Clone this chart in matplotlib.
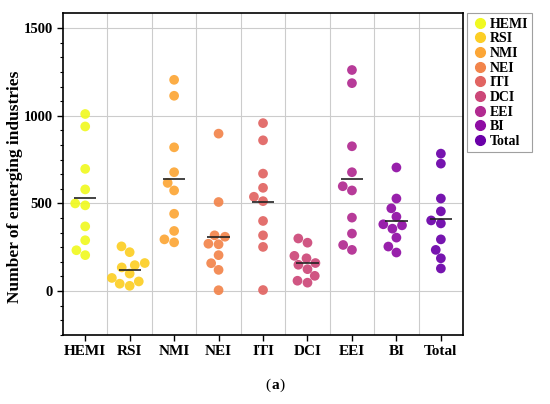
import numpy as np
import pandas as pd
import matplotlib
matplotlib.use('Agg')
import matplotlib.pyplot as plt
import seaborn as sns
from matplotlib.lines import Line2D
from matplotlib.ticker import MultipleLocator

# categories and values
categories = ['HEMI', 'RSI', 'NMI', 'NEI', 'ITI', 'DCI', 'EEI', 'BI', 'Total']
hemi = [1010, 939, 697, 580, 500, 489, 369, 290, 233, 205]
rsi = [255, 222, 160, 148, 135, 100, 75, 55, 42, 30]
nmi = [1205, 1114, 820, 678, 617, 574, 441, 343, 295, 278]
nei = [898, 508, 318, 310, 270, 267, 205, 159, 121, 5]
iti = [958, 860, 670, 589, 538, 513, 400, 318, 252, 6]
dci = [300, 276, 201, 187, 160, 150, 125, 87, 59, 48]
eei = [1261, 1186, 826, 678, 598, 574, 419, 328, 263, 235]
bi = [705, 528, 472, 424, 381, 375, 356, 305, 254, 220]
total = [784, 727, 528, 455, 403, 386, 295, 235, 187, 129]
series = [hemi, rsi, nmi, nei, iti, dci, eei, bi, total]

# plasma colours, yellow -> purple
colors = [plt.cm.plasma(v) for v in [1.0, 0.9, 0.8, 0.7, 0.6, 0.5, 0.4, 0.3, 0.2]]

df = pd.DataFrame({
    'cat': np.repeat(categories, [len(s) for s in series]),
    'val': np.concatenate(series),
})

plt.rcParams['font.family'] = ['Liberation Serif', 'DejaVu Serif']
plt.rcParams['font.weight'] = 'bold'

fig = plt.figure(figsize=(5.5, 4.04), dpi=100)
ax = fig.add_axes([0.1145, 0.171, 0.7275, 0.7956])

sns.swarmplot(data=df, x='cat', y='val', hue='cat', order=categories,
              hue_order=categories, palette=colors, size=7, linewidth=0,
              alpha=0.92, legend=False, ax=ax, zorder=3)

# mean lines
for i, s in enumerate(series):
    ax.hlines(np.mean(s), i - 0.25, i + 0.25, color='#222222', lw=1.2, zorder=4)

ax.set_xlim(-0.5, 8.5)
ax.set_ylim(-250, 1583.3)
ax.yaxis.set_major_locator(MultipleLocator(500))
ax.yaxis.set_minor_locator(MultipleLocator(500 / 6))
ax.set_xticks(range(len(categories)))
ax.set_xticklabels(categories, fontsize=11, fontweight='bold')
ax.set_xticks(np.arange(0.5, 8, 1), minor=True)
ax.tick_params(axis='x', which='minor', length=0)
ax.tick_params(axis='both', which='major', length=4, width=1, direction='out')
ax.tick_params(axis='y', which='minor', length=2.5, width=0.8, direction='out')
for lab in ax.get_yticklabels():
    lab.set_fontsize(10.5)
    lab.set_fontweight('bold')

ax.grid(axis='y', which='major', color='#cccccc', lw=0.8, zorder=0)
ax.grid(axis='x', which='minor', color='#cccccc', lw=0.8, zorder=0)
ax.set_axisbelow(True)
for sp in ax.spines.values():
    sp.set_linewidth(1.2)

ax.set_xlabel('')
ax.set_ylabel('Number of emerging industries', fontsize=12.5, fontweight='bold')
ax.yaxis.set_label_coords(-0.1, 0.46)

handles = [Line2D([], [], marker='o', ls='', color=c, markersize=7) for c in colors]
leg = ax.legend(handles, categories, loc='upper left', bbox_to_anchor=(1.01, 1.0),
                borderaxespad=0, frameon=True, fancybox=False, handletextpad=0.1,
                labelspacing=0.12, borderpad=0.3, handlelength=1.2,
                prop={'weight': 'bold', 'size': 10})
leg.get_frame().set_edgecolor('#888888')
leg.get_frame().set_linewidth(0.8)

fig.text(0.5, 0.047, 'a', ha='center', va='center', fontsize=11, fontweight='bold')
fig.text(0.4915, 0.047, '(', ha='right', va='center', fontsize=11, fontweight='normal')
fig.text(0.5085, 0.047, ')', ha='left', va='center', fontsize=11, fontweight='normal')

fig.savefig('out.png', dpi=100)
